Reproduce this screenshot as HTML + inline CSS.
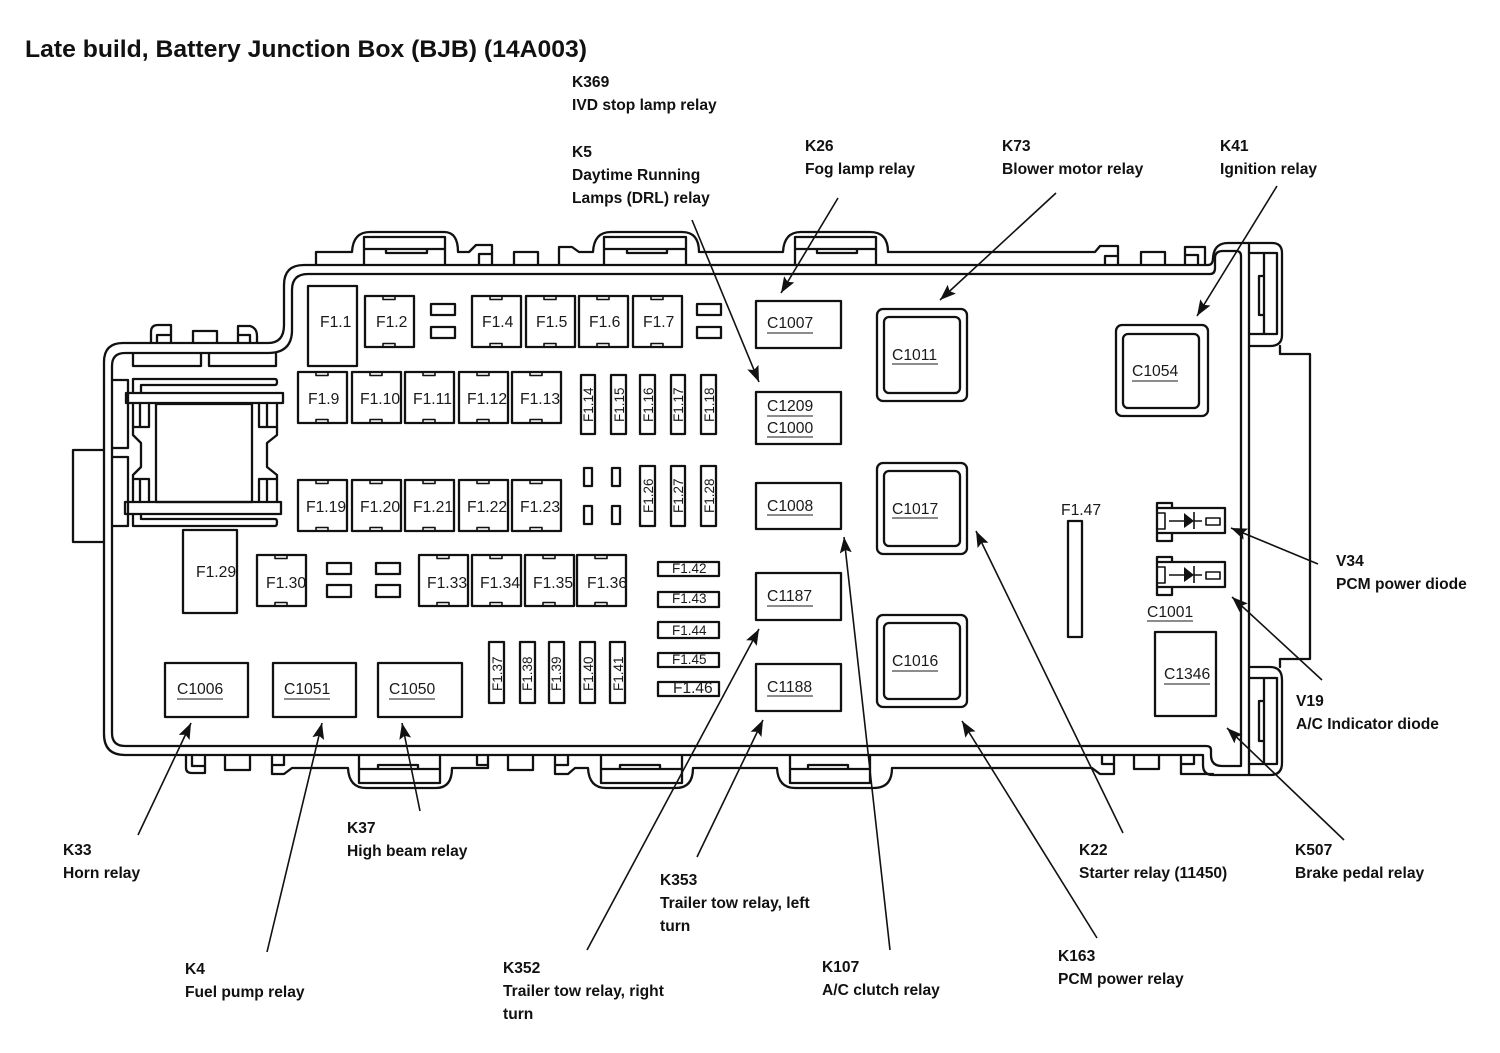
<!DOCTYPE html>
<html>
<head>
<meta charset="utf-8">
<title>Late build, Battery Junction Box (BJB) (14A003)</title>
<style>
html,body{margin:0;padding:0;background:#fff;width:1500px;height:1053px;overflow:hidden}
svg{display:block}
.l{fill:none;stroke:#111;stroke-width:2.3;stroke-linejoin:round;stroke-linecap:round}
.t{font-family:"Liberation Sans",sans-serif;fill:#111}
.lab{font-family:"Liberation Sans",sans-serif;font-weight:bold;font-size:15.6px;fill:#111}
.f{font-family:"Liberation Sans",sans-serif;font-size:15.7px;fill:#1a1a1a}
.s{font-family:"Liberation Sans",sans-serif;font-size:13.5px;fill:#1a1a1a}
.u{stroke:#666;stroke-width:1.5}
.a{stroke:#111;stroke-width:1.6;fill:none}
</style>
</head>
<body>
<svg xmlns="http://www.w3.org/2000/svg" width="1500" height="1053" viewBox="0 0 1500 1053">
<defs>
<marker id="ah" markerUnits="userSpaceOnUse" markerWidth="18" markerHeight="14" refX="16" refY="6" orient="auto">
<path d="M0,0 L16,6 L0,12 L3,6 Z" fill="#111"/>
</marker>
<g id="fz">
<rect class="l" x="0" y="0" width="49" height="51"/>
<path class="l" style="stroke-width:1.6" d="M18,0 v3.5 h12 v-3.5 M18,51 v-3.5 h12 v3.5"/>
</g>
<g id="diode">
<path class="l" d="M1165,508 H1225 V533 H1172 M1157,503 H1172 V508 M1157,503 V541 H1172 V533 M1157,533 H1172 M1157,508 H1165"/>
<path class="l" style="stroke-width:1.6" d="M1157,513 H1165 V529 H1157"/>
<path class="a" d="M1169,521 H1184 M1194,521 H1202 M1194,512 V529"/>
<path d="M1184,513 L1194,521 L1184,528 Z" fill="#111"/>
<rect class="l" x="1206" y="518" width="14" height="7" style="stroke-width:1.6"/>
</g>
</defs>
<rect width="1500" height="1053" fill="#fff"/>

<!-- title -->
<text class="t" x="25" y="57" font-size="24" font-weight="bold" textLength="562" lengthAdjust="spacingAndGlyphs">Late build, Battery Junction Box (BJB) (14A003)</text>

<!-- housing -->
<g class="l">
<path d="M1208,265 H304 Q284,265 284,285 V325 Q284,343 268,343 H123 Q104,343 104,362 V734 Q104,755 125,755 H1203 V765 Q1203,775 1213,775 H1270 Q1282,775 1282,763 V680 Q1282,667 1270,667 H1249"/>
<path d="M1208,265 Q1213,265 1213,258 Q1214,243 1228,243 H1272 Q1282,243 1282,253 V335 Q1282,346 1270,346 H1249"/>
<path d="M1249,243 V775"/>
<path d="M1280,346 V354 H1310 V659 H1280 V667"/>
<path d="M1210,274 H308 Q292,274 292,290 V330 Q292,353 268,353 H125 Q112,353 112,366 V733 Q112,746 125,746 H1206 Q1211,746 1211,750 V755 Q1211,766 1222,766 H1241 V256 Q1241,251 1236,251 H1223 Q1215,251 1215,258 V268 Q1215,274 1210,274"/>
<!-- right tabs -->
<path d="M1249,253 H1277 V334 H1249 M1264,253 V334 M1264,276 H1259 V315 H1264"/>
<path d="M1249,678 H1277 V764 H1249 M1264,678 V764 M1264,701 H1259 V741 H1264"/>
<!-- left connector block -->
<path d="M104,450 H73 V542 H104"/>
<path d="M112,380 H128 V448 H112 M112,457 H128 V526 H112"/>
<path d="M133,353 V366 H201 V353 M209,353 V366 H276 V353"/>
<path d="M133,392 V379 H275 Q277,379 277,382 Q277,385 275,385 H141 V392"/>
<rect x="126" y="393" width="157" height="10"/>
<rect x="156" y="404" width="96" height="98"/>
<path d="M133,403 V435 L141,443 V467 L133,475 V502"/>
<path d="M277,403 V435 L267,443 V467 L277,475 V502"/>
<path d="M133,427 H149 V403 M140,403 V427"/>
<path d="M259,403 V427 H277 M267,403 V427"/>
<path d="M133,479 H149 V502 M140,479 V502"/>
<path d="M277,479 H259 V502 M267,479 V502"/>
<rect x="125" y="502" width="156" height="12"/>
<path d="M133,514 V526 H275 Q277,526 277,522 Q277,519 275,519 H141 V514"/>
<!-- small top-left tabs -->
<path d="M151,343 V332 Q151,325 158,325 H171 V343 M157,343 V335 H170"/>
<path d="M193,343 V331 H217 V343"/>
<path d="M238,343 V326 H250 Q257,328 257,336 V343 M238,335 H250 V343"/>
<!-- top outline -->
<path d="M316,265 V252 H352 Q353,232 370,232 H444 Q458,232 458,252 H469 L476,245 H492 V265 M479,265 V254 H492"/>
<path d="M514,265 V252 H538 V265"/>
<path d="M559,265 V247 H572 L579,252 H593 Q594,232 611,232 H682 Q699,232 699,252 H783 Q784,232 801,232 H870 Q888,232 888,252 H1095 L1100,246 H1118 V265 M1105,265 V256 H1118"/>
<path d="M364,265 V237 H445 V265 M364,249 H445 M386,249 V253 H427 V249"/>
<path d="M604,265 V237 H686 V265 M604,249 H686 M627,249 V253 H667 V249"/>
<path d="M795,265 V237 H876 V265 M795,249 H876 M817,249 V253 H857 V249"/>
<path d="M1141,265 V252 H1165 V265"/>
<path d="M1185,265 V247 H1205 V265 M1185,255 H1198 V265"/>
<!-- bottom outline -->
<path d="M186,755 V768 Q186,773 192,773 H205 V755 M192,755 V766 H205"/>
<path d="M225,755 V770 H250 V755"/>
<path d="M272,755 V774 H284 L292,768 H348 Q349,788 366,788 H436 Q452,788 452,768 H488 V755 M272,765 H284 V755 M477,755 V765 H488"/>
<path d="M359,755 V783 H440 V755 M359,769 H440 M378,769 V765 H418 V769"/>
<path d="M508,755 V770 H533 V755"/>
<path d="M555,755 V774 H568 L575,768 H588 Q589,788 606,788 H676 Q693,788 693,768 H777 Q778,788 795,788 H874 Q892,788 892,768 H1092 L1100,774 H1114 V755 M555,765 H568 V755 M1102,755 V764 H1114"/>
<path d="M601,755 V783 H682 V755 M601,769 H682 M620,769 V765 H660 V769"/>
<path d="M790,755 V783 H870 V755 M790,769 H870 M808,769 V765 H848 V769"/>
<path d="M1134,755 V769 H1159 V755"/>
<path d="M1181,755 V774 H1213 M1181,764 H1194 V755"/>
</g>

<!-- large fuses -->
<g class="l">
<rect x="308" y="286" width="49" height="80"/>
<rect x="183" y="530" width="54" height="83"/>
<rect x="431" y="304" width="24" height="11"/><rect x="431" y="327" width="24" height="11"/>
<rect x="697" y="304" width="24" height="11"/><rect x="697" y="327" width="24" height="11"/>
<rect x="327" y="563" width="24" height="11"/><rect x="327" y="585" width="24" height="12"/>
<rect x="376" y="563" width="24" height="11"/><rect x="376" y="585" width="24" height="12"/>
</g>
<use href="#fz" x="365" y="296"/><use href="#fz" x="472" y="296"/><use href="#fz" x="526" y="296"/><use href="#fz" x="579" y="296"/><use href="#fz" x="633" y="296"/>
<use href="#fz" x="298" y="372"/><use href="#fz" x="352" y="372"/><use href="#fz" x="405" y="372"/><use href="#fz" x="459" y="372"/><use href="#fz" x="512" y="372"/>
<use href="#fz" x="298" y="480"/><use href="#fz" x="352" y="480"/><use href="#fz" x="405" y="480"/><use href="#fz" x="459" y="480"/><use href="#fz" x="512" y="480"/>
<use href="#fz" x="257" y="555"/><use href="#fz" x="419" y="555"/><use href="#fz" x="472" y="555"/><use href="#fz" x="525" y="555"/><use href="#fz" x="577" y="555"/>

<g class="f">
<text x="320" y="327">F1.1</text><text x="376" y="327">F1.2</text><text x="482" y="327">F1.4</text><text x="536" y="327">F1.5</text><text x="589" y="327">F1.6</text><text x="643" y="327">F1.7</text>
<text x="308" y="404">F1.9</text><text x="360" y="404">F1.10</text><text x="413" y="404">F1.11</text><text x="467" y="404">F1.12</text><text x="520" y="404">F1.13</text>
<text x="306" y="512">F1.19</text><text x="360" y="512">F1.20</text><text x="413" y="512">F1.21</text><text x="467" y="512">F1.22</text><text x="520" y="512">F1.23</text>
<text x="196" y="577">F1.29</text><text x="266" y="588">F1.30</text><text x="427" y="588">F1.33</text><text x="480" y="588">F1.34</text><text x="533" y="588">F1.35</text><text x="587" y="588">F1.36</text>
<text x="1061" y="515">F1.47</text>
</g>

<!-- vertical fuses -->
<g class="l">
<rect x="581" y="375" width="14" height="59"/><rect x="611" y="375" width="15" height="59"/><rect x="640" y="375" width="15" height="59"/><rect x="671" y="375" width="14" height="59"/><rect x="701" y="375" width="15" height="59"/>
<rect x="640" y="466" width="15" height="60"/><rect x="671" y="466" width="14" height="60"/><rect x="701" y="466" width="15" height="60"/>
<rect x="489" y="642" width="15" height="61"/><rect x="520" y="642" width="15" height="61"/><rect x="549" y="642" width="15" height="61"/><rect x="580" y="642" width="15" height="61"/><rect x="610" y="642" width="15" height="61"/>
<rect x="584" y="468" width="8" height="18"/><rect x="612" y="468" width="8" height="18"/><rect x="584" y="506" width="8" height="18"/><rect x="612" y="506" width="8" height="18"/>
<rect x="658" y="562" width="61" height="14"/><rect x="658" y="592" width="61" height="15"/><rect x="658" y="622" width="61" height="16"/><rect x="658" y="653" width="61" height="14"/><rect x="658" y="682" width="61" height="14"/>
<rect x="1068" y="521" width="14" height="116"/>
</g>
<g class="s">
<text transform="rotate(-90 593 422)" x="593" y="422">F1.14</text>
<text transform="rotate(-90 624 422)" x="624" y="422">F1.15</text>
<text transform="rotate(-90 653 422)" x="653" y="422">F1.16</text>
<text transform="rotate(-90 683 422)" x="683" y="422">F1.17</text>
<text transform="rotate(-90 714 422)" x="714" y="422">F1.18</text>
<text transform="rotate(-90 653 513)" x="653" y="513">F1.26</text>
<text transform="rotate(-90 683 513)" x="683" y="513">F1.27</text>
<text transform="rotate(-90 714 513)" x="714" y="513">F1.28</text>
<text transform="rotate(-90 502 691)" x="502" y="691">F1.37</text>
<text transform="rotate(-90 532 691)" x="532" y="691">F1.38</text>
<text transform="rotate(-90 561 691)" x="561" y="691">F1.39</text>
<text transform="rotate(-90 593 691)" x="593" y="691">F1.40</text>
<text transform="rotate(-90 623 691)" x="623" y="691">F1.41</text>
<text x="672" y="573">F1.42</text><text x="672" y="603">F1.43</text><text x="672" y="635">F1.44</text><text x="672" y="664">F1.45</text>
<text x="673" y="693" style="font-size:15.5px">F1.46</text>
</g>

<!-- connector boxes -->
<g class="l">
<rect x="756" y="301" width="85" height="47"/>
<rect x="756" y="392" width="85" height="52"/>
<rect x="756" y="483" width="85" height="46"/>
<rect x="756" y="573" width="85" height="47"/>
<rect x="756" y="664" width="85" height="47"/>
<rect x="165" y="663" width="83" height="54"/>
<rect x="273" y="663" width="83" height="54"/>
<rect x="378" y="663" width="84" height="54"/>
<rect x="1155" y="632" width="61" height="84"/>
<rect x="877" y="309" width="90" height="92" rx="6"/><rect x="884" y="317" width="76" height="76" rx="5"/>
<rect x="877" y="463" width="90" height="91" rx="6"/><rect x="884" y="471" width="76" height="75" rx="5"/>
<rect x="877" y="615" width="90" height="92" rx="6"/><rect x="884" y="623" width="76" height="76" rx="5"/>
<rect x="1116" y="325" width="92" height="91" rx="6"/><rect x="1123" y="334" width="76" height="74" rx="5"/>
</g>
<g class="f">
<text x="767" y="328">C1007</text><text x="767" y="411">C1209</text><text x="767" y="433">C1000</text><text x="767" y="511">C1008</text><text x="767" y="601">C1187</text><text x="767" y="692">C1188</text>
<text x="177" y="694">C1006</text><text x="284" y="694">C1051</text><text x="389" y="694">C1050</text>
<text x="892" y="360">C1011</text><text x="892" y="514">C1017</text><text x="892" y="666">C1016</text>
<text x="1132" y="376">C1054</text><text x="1147" y="617">C1001</text><text x="1164" y="679">C1346</text>
</g>
<g class="u">
<path d="M767,333 H813 M767,416 H813 M767,437 H813 M767,515 H813 M767,606 H813 M767,696 H813 M177,699 H223 M284,699 H330 M389,699 H435 M892,364 H938 M892,518 H938 M892,671 H938 M1132,381 H1178 M1147,621 H1193 M1164,684 H1210"/>
</g>

<!-- diodes -->
<use href="#diode"/>
<use href="#diode" y="54"/>

<!-- leader arrows -->
<g class="a">
<line x1="692" y1="220" x2="759" y2="382" marker-end="url(#ah)"/>
<line x1="838" y1="198" x2="781" y2="293" marker-end="url(#ah)"/>
<line x1="1056" y1="193" x2="940" y2="300" marker-end="url(#ah)"/>
<line x1="1277" y1="186" x2="1197" y2="316" marker-end="url(#ah)"/>
<line x1="1318" y1="564" x2="1231" y2="528" marker-end="url(#ah)"/>
<line x1="1322" y1="680" x2="1232" y2="597" marker-end="url(#ah)"/>
<line x1="1344" y1="840" x2="1227" y2="728" marker-end="url(#ah)"/>
<line x1="1123" y1="833" x2="976" y2="531" marker-end="url(#ah)"/>
<line x1="1097" y1="938" x2="962" y2="721" marker-end="url(#ah)"/>
<line x1="890" y1="950" x2="844" y2="537" marker-end="url(#ah)"/>
<line x1="697" y1="857" x2="763" y2="720" marker-end="url(#ah)"/>
<line x1="587" y1="950" x2="759" y2="629" marker-end="url(#ah)"/>
<line x1="420" y1="811" x2="402" y2="723" marker-end="url(#ah)"/>
<line x1="267" y1="952" x2="322" y2="723" marker-end="url(#ah)"/>
<line x1="138" y1="835" x2="191" y2="723" marker-end="url(#ah)"/>
</g>

<!-- labels -->
<g class="lab">
<text x="572" y="87">K369</text><text x="572" y="110">IVD stop lamp relay</text>
<text x="572" y="157">K5</text><text x="572" y="180">Daytime Running</text><text x="572" y="203">Lamps (DRL) relay</text>
<text x="805" y="151">K26</text><text x="805" y="174">Fog lamp relay</text>
<text x="1002" y="151">K73</text><text x="1002" y="174">Blower motor relay</text>
<text x="1220" y="151">K41</text><text x="1220" y="174">Ignition relay</text>
<text x="1336" y="566">V34</text><text x="1336" y="589">PCM power diode</text>
<text x="1296" y="706">V19</text><text x="1296" y="729">A/C Indicator diode</text>
<text x="1295" y="855">K507</text><text x="1295" y="878">Brake pedal relay</text>
<text x="1079" y="855">K22</text><text x="1079" y="878">Starter relay (11450)</text>
<text x="1058" y="961">K163</text><text x="1058" y="984">PCM power relay</text>
<text x="822" y="972">K107</text><text x="822" y="995">A/C clutch relay</text>
<text x="660" y="885">K353</text><text x="660" y="908">Trailer tow relay, left</text><text x="660" y="931">turn</text>
<text x="503" y="973">K352</text><text x="503" y="996">Trailer tow relay, right</text><text x="503" y="1019">turn</text>
<text x="185" y="974">K4</text><text x="185" y="997">Fuel pump relay</text>
<text x="347" y="833">K37</text><text x="347" y="856">High beam relay</text>
<text x="63" y="855">K33</text><text x="63" y="878">Horn relay</text>
</g>
</svg>
</body>
</html>
